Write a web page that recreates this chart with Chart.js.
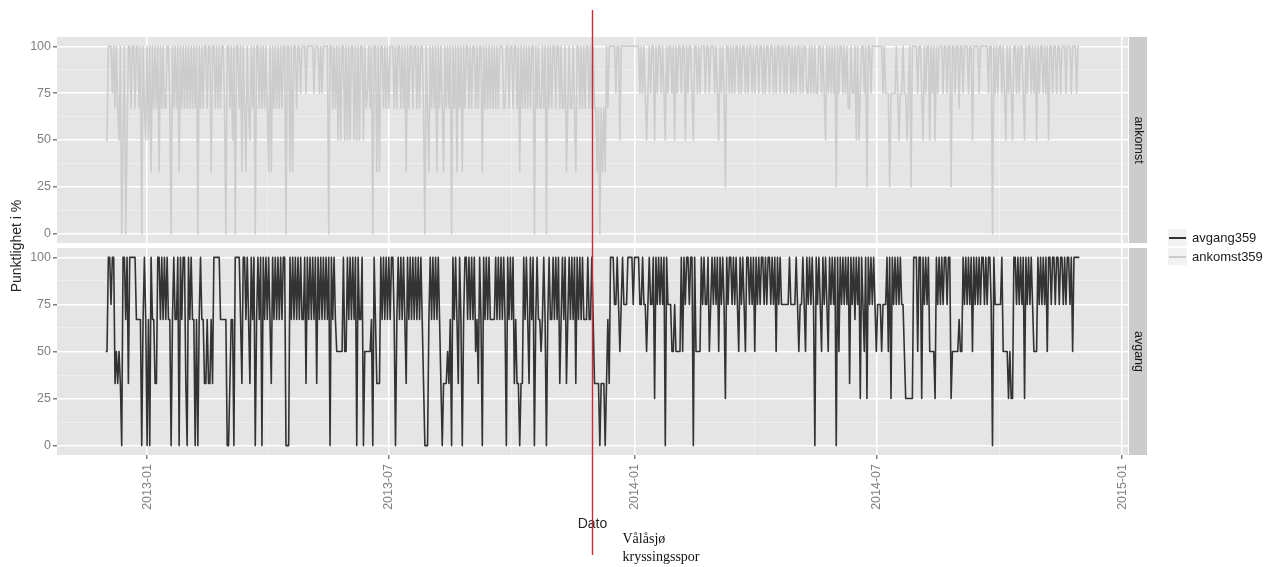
<!DOCTYPE html>
<html>
<head>
<meta charset="utf-8">
<script src="https://cdn.jsdelivr.net/npm/chart.js@4.4.1/dist/chart.umd.min.js"></script>
<style>
  body { margin: 0; background: #fff; }
  #wrap { position: relative; width: 1272px; height: 567px; overflow: hidden; font-family: "Liberation Sans", Arial, sans-serif; }
  #wrap canvas { position: absolute; left: 0; top: 0; }
  #legend { position: absolute; left: 1167px; top: 228px; font-size: 13px; color: #1a1a1a; }
  .row { display: flex; align-items: center; height: 19px; white-space: nowrap; }
  .key { width: 21px; height: 19px; background: #f2f2f2; box-sizing: border-box; border: 1px solid #fff; position: relative; margin-right: 4px; }
  .key span { position: absolute; left: 1px; right: 1px; top: 8px; height: 1.5px; }
</style>
</head>
<body>
<div id="wrap">
  <canvas id="topChart" width="1272" height="567"></canvas>
  <canvas id="botChart" width="1272" height="567"></canvas>
  <div id="legend"></div>
</div>
<script>
// daily punctuality, first day 2012-12-01
const startDate = '2012-12-01';

const ankomst359 = [
  50,50,100,100,100,75,100,67,100,67,
  50,100,0,50,100,0,50,100,100,67,
  100,100,67,100,100,67,100,0,100,67,
  50,100,50,100,33,100,67,100,67,100,
  33,100,67,100,67,67,100,100,67,0,
  100,67,100,67,100,33,100,67,100,67,
  100,67,100,67,100,67,100,67,100,0,
  100,67,100,67,100,100,67,100,100,33,
  100,100,67,100,67,100,67,100,100,67,
  0,100,100,67,100,50,100,0,100,100,
  67,100,33,100,67,33,100,67,50,100,
  67,100,0,100,100,67,100,67,100,67,
  100,67,33,100,33,100,67,100,67,100,
  67,100,67,100,100,0,100,100,33,100,
  33,100,100,67,100,100,75,100,100,100,
  75,100,100,100,100,100,75,100,100,100,
  75,100,75,100,100,100,100,0,100,100,
  67,100,67,100,50,100,50,100,100,50,
  100,50,100,50,100,100,50,100,50,100,
  50,100,100,50,100,67,75,100,67,100,
  0,100,100,33,100,33,100,100,67,100,
  67,100,67,100,100,100,67,100,67,100,
  100,67,100,67,100,33,100,67,100,100,
  67,100,100,67,100,67,100,100,67,0,
  100,67,33,100,67,100,67,100,33,100,
  67,100,67,33,100,67,100,67,100,0,
  100,67,100,33,100,67,100,33,100,67,
  100,100,67,100,67,100,100,67,100,67,
  100,100,33,100,67,100,67,100,67,100,
  67,100,67,100,67,100,100,100,67,67,
  100,100,67,100,100,67,100,100,67,100,
  33,100,67,100,67,100,67,100,67,100,
  100,0,100,67,100,67,67,100,67,100,
  0,100,67,100,67,100,100,67,100,100,
  67,100,67,67,100,33,67,100,67,67,
  100,67,33,100,100,67,100,67,100,67,
  100,100,67,100,67,100,67,67,33,67,
  0,67,33,67,33,100,67,100,100,100,
  100,100,75,100,100,50,100,100,100,100,
  100,100,100,100,100,100,100,100,100,100,
  75,100,75,100,75,50,75,100,75,100,
  100,50,100,75,100,100,75,100,75,50,
  100,75,100,100,75,100,50,100,75,100,
  100,75,100,100,50,100,75,100,100,75,
  50,100,100,75,100,75,100,100,100,75,
  100,100,75,100,100,100,75,100,75,50,
  100,75,100,75,25,100,100,75,100,75,
  100,75,100,100,75,100,75,100,100,75,
  100,75,100,100,75,100,75,100,100,75,
  100,100,75,100,75,100,100,75,100,100,
  75,100,75,100,100,75,100,100,75,100,
  75,100,100,75,100,75,100,75,100,100,
  75,100,75,100,100,75,75,100,75,100,
  75,100,75,75,100,100,75,100,75,50,
  100,75,100,75,100,75,100,25,100,75,
  100,100,75,100,75,100,67,67,100,75,
  75,100,50,100,50,75,100,100,75,100,
  25,100,100,75,100,100,100,100,100,100,
  100,100,75,100,75,75,75,25,75,75,
  75,75,100,75,50,75,75,100,75,75,
  50,75,100,25,100,100,100,100,75,100,
  100,75,50,100,75,100,100,50,100,75,
  100,50,100,75,100,100,100,75,100,100,
  75,100,100,25,100,100,75,100,100,67,
  100,100,75,100,100,100,75,100,100,50,
  100,100,100,100,75,100,100,100,100,100,
  100,75,100,100,0,100,75,100,75,100,
  100,75,100,75,50,100,75,100,75,50,
  100,100,75,100,75,100,100,75,50,100,
  75,100,100,75,100,75,100,50,100,75,
  100,100,75,100,75,100,50,100,100,75,
  100,100,75,100,100,75,100,100,100,75,
  100,100,100,75,100,100,100,75,100,100
];

const avgang359 = [
  50,50,100,100,75,100,100,33,50,33,
  50,33,0,100,100,67,100,33,100,100,
  100,100,100,67,67,67,67,0,67,100,
  67,0,67,0,100,67,67,33,33,100,
  100,67,100,67,100,67,100,67,67,0,
  67,100,67,67,100,0,100,67,100,100,
  33,0,100,67,100,67,67,0,67,0,
  67,100,67,67,33,33,67,33,33,67,
  33,100,100,100,100,100,67,67,67,67,
  67,0,0,33,67,67,0,100,100,100,
  100,67,33,100,100,67,100,67,33,100,
  67,100,0,67,100,67,100,0,100,67,
  100,67,100,67,33,100,67,100,67,100,
  67,100,67,100,100,0,0,0,100,67,
  100,67,100,67,100,67,100,67,67,100,
  33,100,67,100,67,100,67,100,33,100,
  67,100,67,100,67,100,67,100,0,100,
  67,100,67,50,50,50,50,50,100,50,
  50,100,67,100,67,100,67,100,0,100,
  67,67,100,0,50,50,50,50,50,67,
  0,100,67,33,33,33,100,67,100,67,
  100,67,100,67,100,100,67,0,67,100,
  67,100,67,100,67,33,100,67,100,67,
  100,67,100,67,100,67,100,67,33,0,
  0,0,67,100,67,100,67,100,67,100,
  67,33,0,33,33,33,50,33,67,0,
  100,67,100,67,33,100,67,0,67,100,
  100,67,100,67,100,67,100,50,67,33,
  100,67,0,100,67,100,67,100,67,67,
  67,67,100,67,100,67,100,67,100,67,
  0,100,67,100,67,100,33,67,33,33,
  0,33,33,100,67,100,67,33,100,67,
  100,0,67,100,67,67,50,67,100,67,
  0,67,100,67,67,100,67,100,67,100,
  33,67,100,67,100,33,67,100,67,100,
  67,100,33,100,67,100,67,100,67,67,
  67,100,67,67,100,67,33,33,33,33,
  0,33,33,33,0,33,67,33,100,100,
  100,75,75,100,75,50,75,100,75,75,
  75,100,100,100,100,75,100,100,100,100,
  75,75,100,75,75,50,75,100,75,75,
  100,25,100,75,100,75,100,75,100,0,
  100,75,75,75,50,50,75,50,50,50,
  50,100,50,100,75,100,100,75,100,100,
  0,100,50,50,50,50,100,75,100,75,
  75,100,50,75,100,75,100,75,100,50,
  100,75,100,75,25,100,75,100,100,75,
  100,75,100,75,50,100,75,100,75,50,
  100,100,75,100,75,100,50,100,75,100,
  75,100,100,75,100,75,100,100,75,100,
  75,100,50,100,75,100,75,75,75,75,
  75,75,100,75,75,75,75,100,75,50,
  75,75,100,75,50,100,75,100,75,100,
  75,0,100,75,100,75,50,100,75,100,
  75,50,100,75,100,75,100,0,100,50,
  100,75,100,75,100,75,100,33,100,75,
  100,67,100,75,100,25,100,75,50,100,
  25,100,75,100,75,100,75,50,75,75,
  75,50,75,75,75,100,50,100,25,100,
  75,100,75,100,75,100,75,75,50,25,
  25,25,25,25,25,100,100,100,50,100,
  100,25,100,75,100,75,100,50,50,50,
  50,25,100,75,100,75,100,75,100,100,
  75,100,100,25,50,50,50,50,50,67,
  50,50,100,75,100,75,100,75,100,50,
  100,75,100,75,100,75,100,100,75,100,
  75,100,100,75,0,100,75,75,75,75,
  75,100,50,50,50,50,25,50,25,25,
  100,100,75,100,75,100,75,100,25,100,
  75,100,75,100,75,50,50,50,100,75,
  100,75,100,75,100,50,100,100,75,100,
  100,75,100,100,75,100,100,75,100,75,
  100,100,75,100,50,100,100,100,100,100
];

const facetLabels = ['ankomst', 'avgang'];
const seriesNames = ['avgang359', 'ankomst359'];
const seriesColors = ['#333333', '#cccccc'];
const yTicks = [0, 25, 50, 75, 100];
const yMinor = [12.5, 37.5, 62.5, 87.5];
const xTickDates = ['2013-01-01', '2013-07-01', '2014-01-01', '2014-07-01', '2015-01-01'];
const xTickLabels = ['2013-01', '2013-07', '2014-01', '2014-07', '2015-01'];
const xMinorDates = ['2013-04-01', '2013-10-01', '2014-04-01', '2014-10-01'];
const yTitle = 'Punktlighet i %';
const markerDate = '2013-11-30';
const markerText = ['Vålåsjø', 'kryssingsspor'];

const DAY = 864e5;
const toDay = s => Date.parse(s) / DAY;
const day0 = toDay(startDate);
const xs = ankomst359.map((_, i) => day0 + i);
const span = xs[xs.length - 1] - xs[0];
const xMin = xs[0] - 0.05 * span;
const xMax = xs[xs.length - 1] + 0.05 * span;
const xMajor = xTickDates.map(toDay);
const xMinor = xMinorDates.map(toDay);

Chart.defaults.font.family = '"Liberation Sans", Arial, sans-serif';
Chart.defaults.animation = false;

const GREY50 = '#7f7f7f';

// panel background + facet strip on the right
const facetPlugin = {
  id: 'facet',
  beforeDraw(chart, args, opts) {
    const { ctx, chartArea: a } = chart;
    ctx.save();
    ctx.fillStyle = '#e5e5e5';
    ctx.fillRect(a.left, a.top, a.right - a.left, a.bottom - a.top);
    ctx.fillStyle = '#cccccc';
    ctx.fillRect(a.right + 1, a.top, 18, a.bottom - a.top);
    ctx.translate(a.right + 10, (a.top + a.bottom) / 2);
    ctx.rotate(Math.PI / 2);
    ctx.fillStyle = '#1a1a1a';
    ctx.font = '12.5px "Liberation Sans", Arial, sans-serif';
    ctx.textAlign = 'center';
    ctx.textBaseline = 'middle';
    ctx.fillText(opts.label, 0, 0);
    ctx.restore();
  }
};

// shared y title, red vertical marker and its note
const markerPlugin = {
  id: 'marker',
  afterDraw(chart) {
    const { ctx } = chart;
    ctx.save();
    ctx.translate(17, 246);
    ctx.rotate(-Math.PI / 2);
    ctx.fillStyle = '#262626';
    ctx.font = '14px "Liberation Sans", Arial, sans-serif';
    ctx.textAlign = 'center';
    ctx.textBaseline = 'middle';
    ctx.fillText(yTitle, 0, 0);
    ctx.restore();

    const x = Math.round(chart.scales.x.getPixelForValue(toDay(markerDate))) + 0.5;
    ctx.save();
    ctx.strokeStyle = '#cc2b36';
    ctx.lineWidth = 1.4;
    ctx.beginPath();
    ctx.moveTo(x, 10);
    ctx.lineTo(x, 555);
    ctx.stroke();
    ctx.fillStyle = '#111';
    ctx.font = '14px "Liberation Serif", "Times New Roman", serif';
    ctx.textBaseline = 'middle';
    ctx.fillText(markerText[0], x + 30, 539);
    ctx.fillText(markerText[1], x + 30, 557);
    ctx.restore();
  }
};

function yScale() {
  return {
    min: -5, max: 105,
    afterBuildTicks: s => { s.ticks = yMinor.concat(yTicks).sort((a, b) => a - b).map(v => ({ value: v })); },
    afterFit: s => { s.width = 47; },
    border: { display: false },
    ticks: {
      autoSkip: false, color: GREY50, padding: 2,
      font: { size: 12.5 },
      callback: v => yTicks.includes(v) ? String(v) : ''
    },
    grid: {
      color: c => yTicks.includes(c.tick.value) ? '#ffffff' : '#f2f2f2',
      lineWidth: c => yTicks.includes(c.tick.value) ? 1.5 : 0.7,
      tickColor: c => yTicks.includes(c.tick.value) ? GREY50 : 'rgba(0,0,0,0)',
      tickLength: 4
    }
  };
}

function xScale(showAxis) {
  return {
    type: 'linear', min: xMin, max: xMax,
    afterBuildTicks: s => { s.ticks = xMinor.concat(xMajor).sort((a, b) => a - b).map(v => ({ value: v })); },
    afterFit: s => { s.height = showAxis ? 80 : 0; },
    border: { display: false },
    ticks: {
      display: showAxis, autoSkip: false, maxRotation: 90, minRotation: 90,
      color: GREY50, padding: 5, font: { size: 12.5 },
      callback: v => { const i = xMajor.indexOf(v); return i >= 0 ? xTickLabels[i] : ''; }
    },
    grid: {
      color: c => xMajor.includes(c.tick.value) ? '#ffffff' : '#f2f2f2',
      lineWidth: c => xMajor.includes(c.tick.value) ? 1.5 : 0.7,
      tickColor: c => xMajor.includes(c.tick.value) ? GREY50 : 'rgba(0,0,0,0)',
      drawTicks: showAxis,
      tickLength: 4
    },
    title: { display: showAxis, text: 'Dato', color: '#262626', font: { size: 14 }, padding: { top: 4, bottom: 2 } }
  };
}

function makeChart(id, values, color, label, top, bottom, showAxis, extra) {
  return new Chart(document.getElementById(id), {
    type: 'line',
    data: {
      datasets: [{
        label: label,
        data: values.map((v, i) => ({ x: xs[i], y: v })),
        borderColor: color,
        borderWidth: 1.6,
        pointRadius: 0,
        tension: 0,
        borderJoinStyle: 'round',
        fill: false
      }]
    },
    options: {
      responsive: false,
      parsing: false,
      layout: { padding: { left: 10, right: 144, top: top, bottom: bottom } },
      plugins: { legend: { display: false }, tooltip: { enabled: false }, facet: { label: extra } },
      scales: { x: xScale(showAxis), y: yScale() }
    },
    plugins: showAxis ? [facetPlugin, markerPlugin] : [facetPlugin]
  });
}

makeChart('topChart', ankomst359, seriesColors[1], seriesNames[1], 37, 324, false, facetLabels[0]);
makeChart('botChart', avgang359, seriesColors[0], seriesNames[0], 248, 32, true, facetLabels[1]);

// legend
const legend = document.getElementById('legend');
seriesNames.forEach((name, i) => {
  const row = document.createElement('div');
  row.className = 'row';
  row.innerHTML = '<div class="key"><span style="background:' + seriesColors[i] + '"></span></div>' + name;
  legend.appendChild(row);
});
</script>
</body>
</html>
